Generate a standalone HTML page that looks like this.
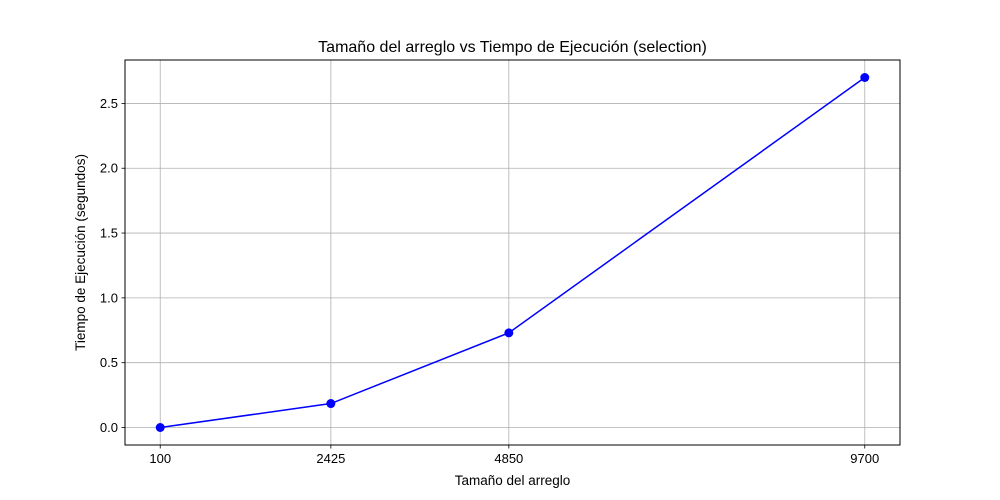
<!DOCTYPE html>
<html><head><meta charset="utf-8"><style>
html,body{margin:0;padding:0;background:#fff;}
svg{display:block;font-family:"Liberation Sans","DejaVu Sans",sans-serif;}
</style></head><body>
<svg id="chart" width="1000" height="500" viewBox="0 0 1000 500">
<rect x="0" y="0" width="1000" height="500" fill="#fff"/>
<g id="grid"></g>
<g id="ticks"></g>
<g id="series"></g>
<rect x="125" y="60" width="775" height="385" fill="none" stroke="#000" stroke-width="1"/>
<text x="512.5" y="52" text-anchor="middle" font-size="16">Tamaño del arreglo vs Tiempo de Ejecución (selection)</text>
<text x="512.5" y="485" text-anchor="middle" font-size="13.5">Tamaño del arreglo</text>
<text transform="translate(85,252.5) rotate(-90)" text-anchor="middle" font-size="13.5">Tiempo de Ejecución (segundos)</text>
</svg>
<script>
const categories = [100, 2425, 4850, 9700];
const times = [0.0, 0.185, 0.73, 2.70];
const yTicks = [0.0, 0.5, 1.0, 1.5, 2.0, 2.5];
const yTickLabels = ["0.0", "0.5", "1.0", "1.5", "2.0", "2.5"];

const L=125,R=900,T=60,B=445;
const xmin=-380,xmax=10180,ymin=-0.135,ymax=2.835;
const xs=v=>L+(v-xmin)/(xmax-xmin)*(R-L);
const ys=v=>B-(v-ymin)/(ymax-ymin)*(B-T);
const NS="http://www.w3.org/2000/svg";
function mk(tag,attrs,parent){const e=document.createElementNS(NS,tag);for(const k in attrs)e.setAttribute(k,attrs[k]);parent.appendChild(e);return e;}
const grid=document.getElementById('grid'),ticks=document.getElementById('ticks'),series=document.getElementById('series');
categories.forEach(c=>{
  const x=xs(c);
  const g=mk('line',{x1:x,x2:x,y1:T,y2:B,stroke:'#b0b0b0','stroke-width':0.8},grid);
  
  
  const t=mk('line',{x1:x,x2:x,y1:B,y2:B+3.5,stroke:'#000','stroke-width':0.8},ticks);
  
  
  const l=mk('text',{x:x,y:B+18,'text-anchor':'middle','font-size':13},ticks);
  l.textContent=String(c);
  
  
});
yTicks.forEach((v,i)=>{
  const y=ys(v);
  const g=mk('line',{x1:L,x2:R,y1:y,y2:y,stroke:'#b0b0b0','stroke-width':0.8},grid);
  
  
  const t=mk('line',{x1:L-3.5,x2:L,y1:y,y2:y,stroke:'#000','stroke-width':0.8},ticks);
  
  
  const l=mk('text',{x:L-7,y:y+4.5,'text-anchor':'end','font-size':13},ticks);
  l.textContent=yTickLabels[i];
  
  
});
const pts=categories.map((c,i)=>xs(c)+','+ys(times[i])).join(' ');
const line=mk('polyline',{points:pts,fill:'none',stroke:'#0000ff','stroke-width':1.5},series);


categories.forEach((c,i)=>{
  const p=mk('circle',{cx:xs(c),cy:ys(times[i]),r:4.5,fill:'#0000ff'},series);
  
  
});
</script>
</body></html>
